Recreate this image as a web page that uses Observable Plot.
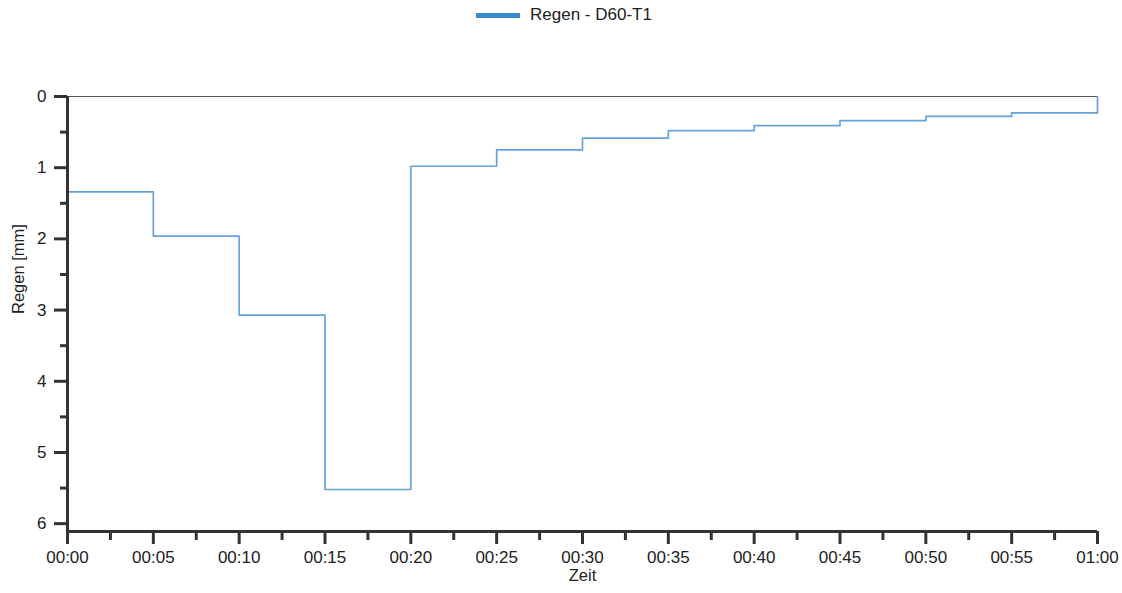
<!DOCTYPE html>
<html>
<head>
<meta charset="utf-8">
<script src="https://cdn.jsdelivr.net/npm/d3@7"></script>
<script src="https://cdn.jsdelivr.net/npm/@observablehq/plot@0.6"></script>
<style>
  body { margin: 0; background: #fff; font-family: "Liberation Sans", Arial, sans-serif; }
  #legend { position: relative; height: 30px; }
  #legend .sw { position: absolute; left: 476px; top: 13px; width: 44px; height: 5px; background: #3a8ad2; }
  #legend .lb { position: absolute; left: 530px; top: 5px; font-size: 17px; color: #222; }
</style>
</head>
<body>
<div id="legend"><div class="sw"></div><div class="lb">Regen - D60-T1</div></div>
<div id="chart"></div>
<script>
// Time in minutes since 00:00 and rain depth in mm (step series)
const minutes = [0, 5, 10, 15, 20, 25, 30, 35, 40, 45, 50, 55, 60];
const regen   = [1.34, 1.96, 3.07, 5.52, 0.98, 0.75, 0.585, 0.48, 0.41, 0.34, 0.28, 0.23, 0];
const xTicks = [0, 5, 10, 15, 20, 25, 30, 35, 40, 45, 50, 55, 60];
const xTickLabels = ["00:00","00:05","00:10","00:15","00:20","00:25","00:30","00:35","00:40","00:45","00:50","00:55","01:00"];
const xMinorTicks = [2.5, 7.5, 12.5, 17.5, 22.5, 27.5, 32.5, 37.5, 42.5, 47.5, 52.5, 57.5];
const yTicks = [0, 1, 2, 3, 4, 5, 6];
const yMinorTicks = [0.5, 1.5, 2.5, 3.5, 4.5, 5.5];
const yMax = 6.11;

const data = minutes.map((m, i) => ({m, v: regen[i]}));
const axisColor = "#333";

const chart = Plot.plot({
  width: 1122,
  height: 563,
  marginTop: 66,
  marginLeft: 67,
  marginRight: 25,
  marginBottom: 62,
  style: {fontFamily: "Liberation Sans, Arial, sans-serif", fontSize: "17px", color: "#222", background: "#fff"},
  x: {domain: [0, 60]},
  y: {domain: [0, yMax], reverse: true},
  marks: [
    Plot.ruleY([0], {stroke: "#555", strokeWidth: 1.2}),
    Plot.line(data, {x: "m", y: "v", curve: "step-after", stroke: "#66a3da", strokeWidth: 1.7}),
    Plot.ruleX([0], {y1: 0, y2: yMax, stroke: axisColor, strokeWidth: 3}),
    Plot.ruleY([yMax], {stroke: axisColor, strokeWidth: 3}),
    Plot.axisY({ticks: yTicks, tickSize: 13, tickPadding: 8, strokeWidth: 3, stroke: axisColor, tickFormat: d3.format("d"), label: null, fontSize: 17}),
    Plot.axisY({ticks: yMinorTicks, tickSize: 7, strokeWidth: 3, stroke: axisColor, text: null, label: null}),
    Plot.axisX({ticks: xTicks, tickSize: 13, tickPadding: 6, strokeWidth: 3, stroke: axisColor, tickFormat: (d) => xTickLabels[xTicks.indexOf(d)], label: null, fontSize: 17}),
    Plot.axisX({ticks: xMinorTicks, tickSize: 9, strokeWidth: 3, stroke: axisColor, text: null, label: null}),
    Plot.text(["Zeit"], {frameAnchor: "bottom", dy: 49, fontSize: 16.5, fill: "#222"}),
    Plot.text(["Regen [mm]"], {frameAnchor: "left", dx: -49, rotate: -90, fontSize: 16.5, fill: "#222"})
  ]
});
document.getElementById("chart").appendChild(chart);
</script>
</body>
</html>
